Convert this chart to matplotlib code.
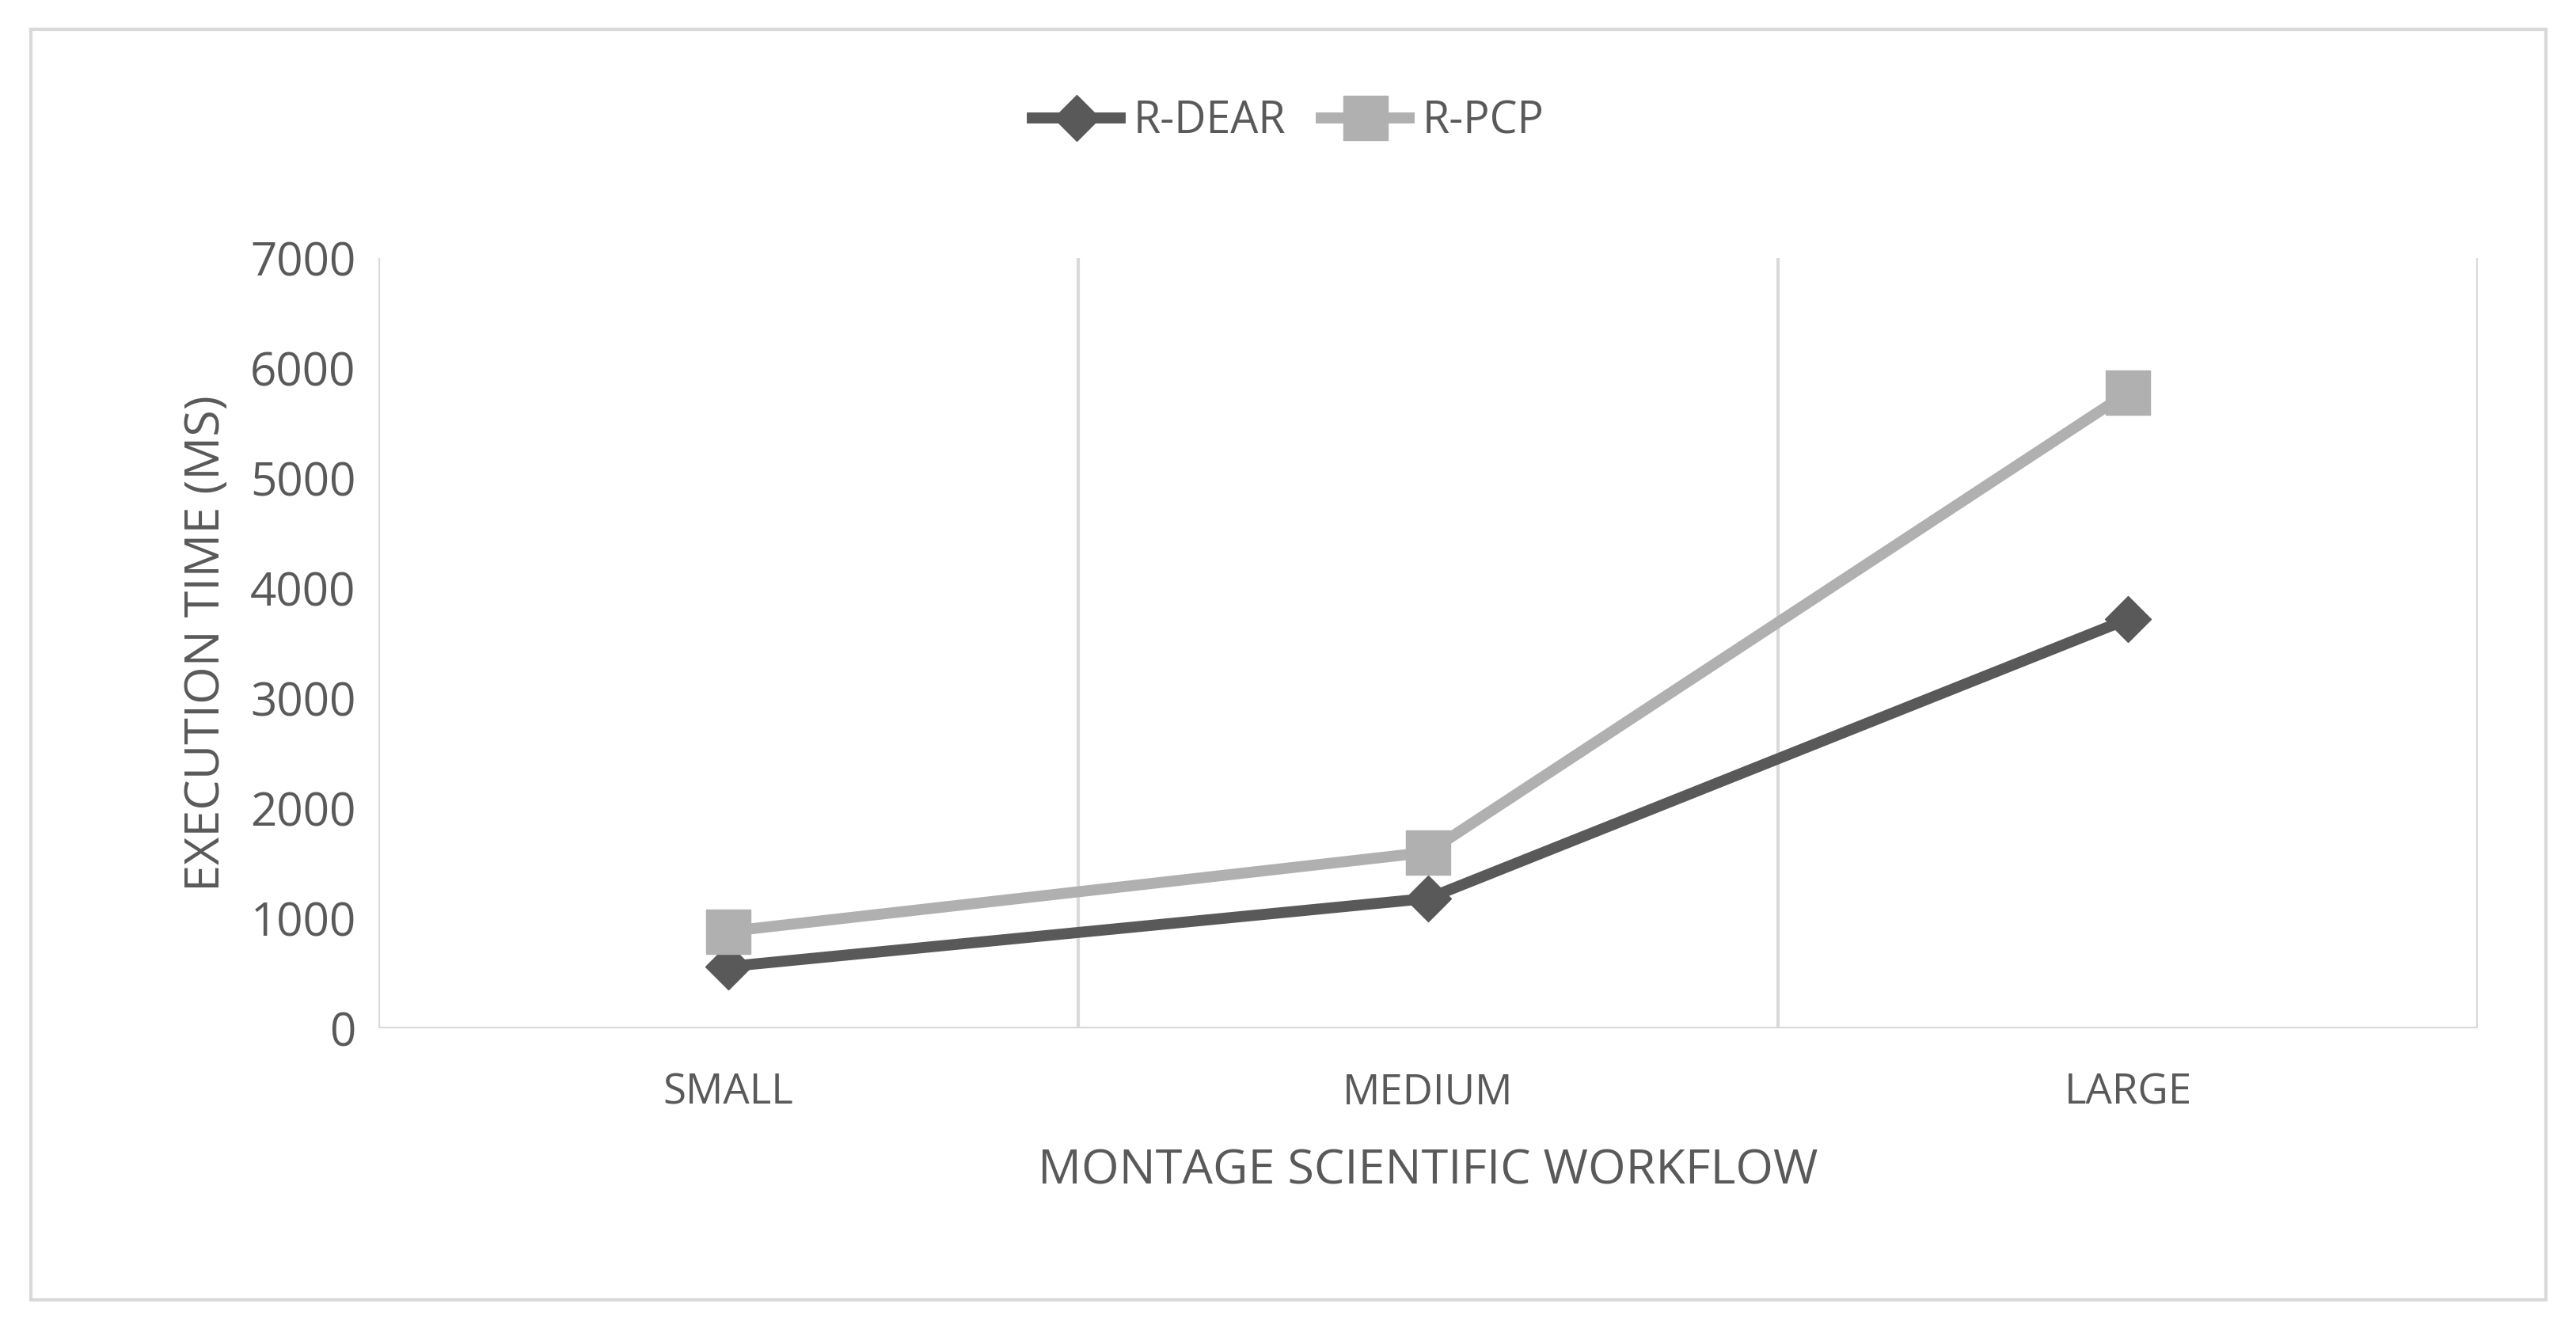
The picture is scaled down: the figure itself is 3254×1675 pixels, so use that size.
import matplotlib.pyplot as plt
from matplotlib.patches import Rectangle

categories = ["SMALL", "MEDIUM", "LARGE"]
r_dear = [560, 1180, 3720]
r_pcp = [880, 1600, 5780]
y_ticks = [0, 1000, 2000, 3000, 4000, 5000, 6000, 7000]

plt.rcParams['font.family'] = ['Open Sans', 'DejaVu Sans']
txt = '#595959'
grid = '#d9d9d9'

fig = plt.figure(figsize=(32.55, 16.75), dpi=100)
fig.patches.append(Rectangle((0.012, 0.02), 0.976, 0.958, transform=fig.transFigure,
                             fill=False, edgecolor=grid, linewidth=3))
ax = fig.add_axes([0.1467, 0.2246, 0.815, 0.5806])

x = range(len(categories))
ax.plot(x, r_dear, color='#595959', linewidth=10, marker='D', markersize=30, label='R-DEAR')
ax.plot(x, r_pcp, color='#b0b0b0', linewidth=10, marker='s', markersize=40, label='R-PCP')

ax.set_xlim(-0.5, 2.5)
ax.set_ylim(0, 7000)
ax.set_yticks(y_ticks)
ax.set_xticks(list(x))
ax.set_xticklabels(categories)
for v in [-0.5, 0.5, 1.5, 2.5]:
    ax.axvline(v, color=grid, linewidth=3, zorder=0)
for s in ax.spines.values():
    s.set_visible(False)
ax.axhline(0, color=grid, linewidth=3, zorder=0)
ax.tick_params(axis='y', length=0, labelsize=42, labelcolor=txt, pad=20)
ax.tick_params(axis='x', length=0, labelsize=38, labelcolor=txt, pad=40)
ax.set_xlabel('MONTAGE SCIENTIFIC WORKFLOW', fontsize=44, color=txt, labelpad=30)
ax.set_ylabel('EXECUTION TIME (MS)', fontsize=44, color=txt, labelpad=18)

fig.legend(loc='upper center', bbox_to_anchor=(0.5, 0.955), ncol=2, frameon=False,
           fontsize=40, labelcolor=txt, handlelength=2.0, columnspacing=0.8,
           handletextpad=0.3)

fig.savefig('out.png', dpi=100)
